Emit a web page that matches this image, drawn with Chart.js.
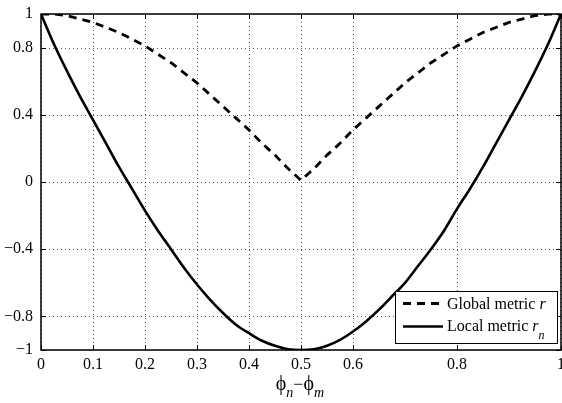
<!DOCTYPE html>
<html>
<head>
<meta charset="utf-8">
<title>Global vs local metric</title>
<script src="https://cdn.jsdelivr.net/npm/chart.js@4/dist/chart.umd.min.js"></script>
<style>
  html, body { margin: 0; padding: 0; background: #fff; }
  #wrap { width: 562px; height: 403px; position: relative; }
</style>
</head>
<body>
<div id="wrap"><canvas id="metric-chart"></canvas></div>
<script>
// phase difference phi_n - phi_m
const phaseDiff = [
  0, 0.025, 0.05, 0.075, 0.1, 0.125, 0.15, 0.175, 0.2, 0.225,
  0.25, 0.275, 0.3, 0.325, 0.35, 0.375, 0.4, 0.425, 0.45, 0.475,
  0.5, 0.525, 0.55, 0.575, 0.6, 0.625, 0.65, 0.675, 0.7, 0.725,
  0.75, 0.775, 0.8, 0.825, 0.85, 0.875, 0.9, 0.925, 0.95, 0.975, 1
];
const globalMetric = [
  1, 1.0, 0.99, 0.97, 0.95, 0.92, 0.89, 0.85, 0.81, 0.76,
  0.71, 0.65, 0.59, 0.52, 0.45, 0.38, 0.31, 0.23, 0.16, 0.08,
  0.01, 0.08, 0.16, 0.23, 0.31, 0.38, 0.45, 0.52, 0.59, 0.65,
  0.71, 0.76, 0.81, 0.85, 0.89, 0.92, 0.95, 0.97, 0.99, 1.0, 1
];
const localMetric = [
  1, 0.82, 0.66, 0.51, 0.37, 0.23, 0.09, -0.04, -0.17, -0.29,
  -0.40, -0.51, -0.61, -0.70, -0.78, -0.85, -0.90, -0.945, -0.975, -0.995,
  -1, -0.995, -0.975, -0.94, -0.89, -0.83, -0.76, -0.68, -0.60, -0.50,
  -0.40, -0.29, -0.16, -0.04, 0.09, 0.23, 0.37, 0.51, 0.66, 0.82, 1
];
const xTicks = [0, 0.1, 0.2, 0.3, 0.4, 0.5, 0.6, 0.8, 1];
const yTicks = [-1, -0.8, -0.4, 0, 0.4, 0.8, 1];

const serif = '"Liberation Serif", "Times New Roman", serif';

function toPoints(ys) {
  return phaseDiff.map((x, i) => ({ x: x, y: ys[i] }));
}

function fmtTick(v) {
  return v < 0 ? '\u2212' + String(Math.abs(v)) : String(v);
}

// dotted grid under the curves
const dottedGrid = {
  id: 'dottedGrid',
  beforeDatasetsDraw(chart) {
    const { ctx, chartArea: a, scales: { x, y } } = chart;
    ctx.save();
    ctx.strokeStyle = '#555';
    ctx.lineWidth = 1;
    ctx.setLineDash([1, 3]);
    xTicks.forEach(v => {
      const px = Math.round(x.getPixelForValue(v)) + 0.5;
      ctx.beginPath();
      ctx.moveTo(px, a.top);
      ctx.lineTo(px, a.bottom);
      ctx.stroke();
    });
    yTicks.forEach(v => {
      const py = Math.round(y.getPixelForValue(v)) + 0.5;
      ctx.beginPath();
      ctx.moveTo(a.left, py);
      ctx.lineTo(a.right, py);
      ctx.stroke();
    });
    ctx.restore();
  }
};

// box, inward ticks, legend and axis title
const frame = {
  id: 'frame',
  afterDraw(chart) {
    const { ctx, chartArea: a, scales: { x, y } } = chart;
    const tl = 5;
    ctx.save();
    ctx.strokeStyle = '#000';
    ctx.lineWidth = 1.5;
    ctx.setLineDash([]);
    ctx.strokeRect(a.left, a.top, a.right - a.left, a.bottom - a.top);
    ctx.lineWidth = 1;
    ctx.beginPath();
    xTicks.forEach(v => {
      const px = Math.round(x.getPixelForValue(v)) + 0.5;
      ctx.moveTo(px, a.bottom); ctx.lineTo(px, a.bottom - tl);
      ctx.moveTo(px, a.top); ctx.lineTo(px, a.top + tl);
    });
    yTicks.forEach(v => {
      const py = Math.round(y.getPixelForValue(v)) + 0.5;
      ctx.moveTo(a.left, py); ctx.lineTo(a.left + tl, py);
      ctx.moveTo(a.right, py); ctx.lineTo(a.right - tl, py);
    });
    ctx.stroke();

    // legend
    const lx = 395, ly = 291, lw = 162, lh = 52;
    ctx.fillStyle = '#fff';
    ctx.fillRect(lx, ly, lw, lh);
    ctx.strokeStyle = '#000';
    ctx.lineWidth = 1;
    ctx.strokeRect(lx + 0.5, ly + 0.5, lw, lh);

    const sets = chart.data.datasets;
    const rows = [303.5, 326.5];
    sets.forEach((ds, i) => {
      ctx.save();
      ctx.lineWidth = ds.borderWidth;
      ctx.setLineDash(ds.borderDash || []);
      ctx.beginPath();
      ctx.moveTo(403, rows[i]);
      ctx.lineTo(443, rows[i]);
      ctx.stroke();
      ctx.restore();
    });
    ctx.fillStyle = '#000';
    ctx.textBaseline = 'alphabetic';
    ctx.textAlign = 'left';
    let tx = 447;
    ctx.font = '16px ' + serif;
    ctx.fillText('Global metric ', tx, 308.5);
    tx += ctx.measureText('Global metric ').width;
    ctx.font = 'italic 16px ' + serif;
    ctx.fillText('r', tx, 308.5);

    tx = 447;
    ctx.font = '16px ' + serif;
    ctx.fillText('Local metric ', tx, 331);
    tx += ctx.measureText('Local metric ').width;
    ctx.font = 'italic 16px ' + serif;
    ctx.fillText('r', tx, 331);
    tx += ctx.measureText('r').width;
    ctx.font = 'italic 12px ' + serif;
    ctx.fillText('n', tx, 339);

    // x axis title: phi_n - phi_m
    const parts = [
      { t: '\u03D5', f: '20px ' + serif, dy: 0 },
      { t: 'n', f: 'italic 14px ' + serif, dy: 7 },
      { t: '\u2212', f: '18px ' + serif, dy: 0 },
      { t: '\u03D5', f: '20px ' + serif, dy: 0 },
      { t: 'm', f: 'italic 14px ' + serif, dy: 7 }
    ];
    let total = 0;
    parts.forEach(p => { ctx.font = p.f; p.w = ctx.measureText(p.t).width; total += p.w; });
    tx = 300 - total / 2;
    const base = 390;
    parts.forEach(p => {
      ctx.font = p.f;
      ctx.fillText(p.t, tx, base + p.dy);
      tx += p.w;
    });
    ctx.restore();
  }
};

const ctx = document.getElementById('metric-chart');

new Chart(ctx, {
  type: 'line',
  data: {
    datasets: [{
      label: 'Global metric r',
      data: toPoints(globalMetric),
      borderColor: '#000',
      borderWidth: 2.8,
      borderDash: [8, 6],
      pointRadius: 0,
      tension: 0,
      fill: false
    }, {
      label: 'Local metric r_n',
      data: toPoints(localMetric),
      borderColor: '#000',
      borderWidth: 2.6,
      pointRadius: 0,
      cubicInterpolationMode: 'monotone',
      fill: false
    }]
  },
  options: {
    responsive: true,
    maintainAspectRatio: false,
    animation: false,
    devicePixelRatio: 1,
    layout: { padding: { top: 14, right: 1, left: 0, bottom: 0 } },
    plugins: {
      legend: { display: false },
      tooltip: { enabled: false }
    },
    scales: {
      x: {
        type: 'linear',
        min: 0,
        max: 1,
        afterBuildTicks: s => { s.ticks = xTicks.map(v => ({ value: v })); },
        afterFit: s => { s.height = 53; s.paddingLeft = 0; s.paddingRight = 0; },
        grid: { display: false, drawTicks: false },
        border: { display: false },
        ticks: {
          autoSkip: false,
          maxRotation: 0,
          padding: 5,
          color: '#000',
          font: { family: serif, size: 16 },
          callback: v => fmtTick(v)
        }
      },
      y: {
        type: 'linear',
        min: -1,
        max: 1,
        afterBuildTicks: s => { s.ticks = yTicks.map(v => ({ value: v })); },
        afterFit: s => { s.width = 41; s.paddingTop = 0; s.paddingBottom = 0; },
        grid: { display: false, drawTicks: false },
        border: { display: false },
        ticks: {
          autoSkip: false,
          padding: 8,
          color: '#000',
          font: { family: serif, size: 16 },
          callback: v => fmtTick(v)
        }
      }
    }
  },
  plugins: [dottedGrid, frame]
});
</script>
</body>
</html>
